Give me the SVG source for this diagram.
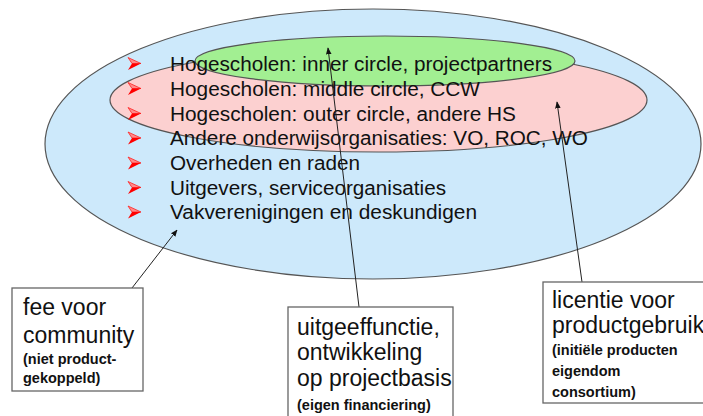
<svg xmlns="http://www.w3.org/2000/svg" width="703" height="416" viewBox="0 0 703 416">
<style>
.ell{stroke:#555;stroke-width:1.2}
.lst{font-family:"Liberation Sans",Arial,sans-serif;font-size:20px;fill:#111}
.big{font-family:"Liberation Sans",Arial,sans-serif;font-size:23px;fill:#111}
.sm{font-family:"Liberation Sans",Arial,sans-serif;font-size:14.5px;font-weight:bold;fill:#111}
.box{fill:#fff;stroke:#666;stroke-width:1.3}
.con{stroke:#222;stroke-width:1;fill:none;marker-end:url(#ah)}
</style>
<defs>
<marker id="ah" viewBox="0 0 10 10" refX="9" refY="5" markerWidth="7" markerHeight="7" orient="auto" markerUnits="userSpaceOnUse">
<path d="M0,1 L10,5 L0,9 Z" fill="#111"/>
</marker>
<g id="bul">
<path d="M0,-6 L13,0 L4,0 Z" fill="#ff8a8a" stroke="#f22" stroke-width="0.8"/>
<path d="M4,0 L13,0 L0,6.5 Z" fill="#f00"/>
</g>
</defs>
<rect width="703" height="416" fill="#fff"/>
<g id="outer"><ellipse class="ell" cx="373" cy="144" rx="328" ry="135" fill="#cde9fb"/></g>
<g id="middle"><ellipse class="ell" cx="378.5" cy="100" rx="268.5" ry="52" fill="#fcd0d0"/></g>
<g id="inner"><ellipse class="ell" cx="385" cy="61" rx="190" ry="25" fill="#a2ef92"/></g>
<g id="list">
<use href="#bul" x="128" y="63.5"/>
<use href="#bul" x="128" y="88.5"/>
<use href="#bul" x="128" y="113.5"/>
<use href="#bul" x="128" y="138"/>
<use href="#bul" x="128" y="163"/>
<use href="#bul" x="128" y="187.5"/>
<use href="#bul" x="128" y="212"/>
<text class="lst" x="170" y="70.5" textLength="382" lengthAdjust="spacingAndGlyphs">Hogescholen: inner circle, projectpartners</text>
<text class="lst" x="170" y="95.5" textLength="310" lengthAdjust="spacingAndGlyphs">Hogescholen: middle circle, CCW</text>
<text class="lst" x="170" y="120.5" textLength="346" lengthAdjust="spacingAndGlyphs">Hogescholen: outer circle, andere HS</text>
<text class="lst" x="170" y="145" textLength="418" lengthAdjust="spacingAndGlyphs">Andere onderwijsorganisaties: VO, ROC, WO</text>
<text class="lst" x="170" y="170" textLength="190" lengthAdjust="spacingAndGlyphs">Overheden en raden</text>
<text class="lst" x="170" y="194.5" textLength="276" lengthAdjust="spacingAndGlyphs">Uitgevers, serviceorganisaties</text>
<text class="lst" x="170" y="219" textLength="307" lengthAdjust="spacingAndGlyphs">Vakverenigingen en deskundigen</text>
</g>
<g id="connectors">
<line class="con" x1="132" y1="288" x2="177" y2="230"/>
<line class="con" x1="359" y1="307" x2="328" y2="48"/>
<line class="con" x1="582" y1="282" x2="557" y2="102"/>
</g>
<g id="fee">
<rect class="box" x="12" y="288" width="131" height="103"/>
<text class="big" x="23" y="315">fee voor</text>
<text class="big" x="23" y="343">community</text>
<text class="sm" x="23" y="364">(niet product-</text>
<text class="sm" x="23" y="383">gekoppeld)</text>
</g>
<g id="uitgeef">
<rect class="box" x="288" y="307" width="165" height="120"/>
<text class="big" x="297" y="335">uitgeeffunctie,</text>
<text class="big" x="297" y="360">ontwikkeling</text>
<text class="big" x="297" y="386">op projectbasis</text>
<text class="sm" x="297" y="410">(eigen financiering)</text>
</g>
<g id="licentie">
<rect class="box" x="543" y="282" width="200" height="121"/>
<text class="big" x="552" y="308">licentie voor</text>
<text class="big" x="552" y="333">productgebruik</text>
<text class="sm" x="552" y="355">(initiële producten</text>
<text class="sm" x="552" y="376">eigendom</text>
<text class="sm" x="552" y="397">consortium)</text>
</g>
</svg>
